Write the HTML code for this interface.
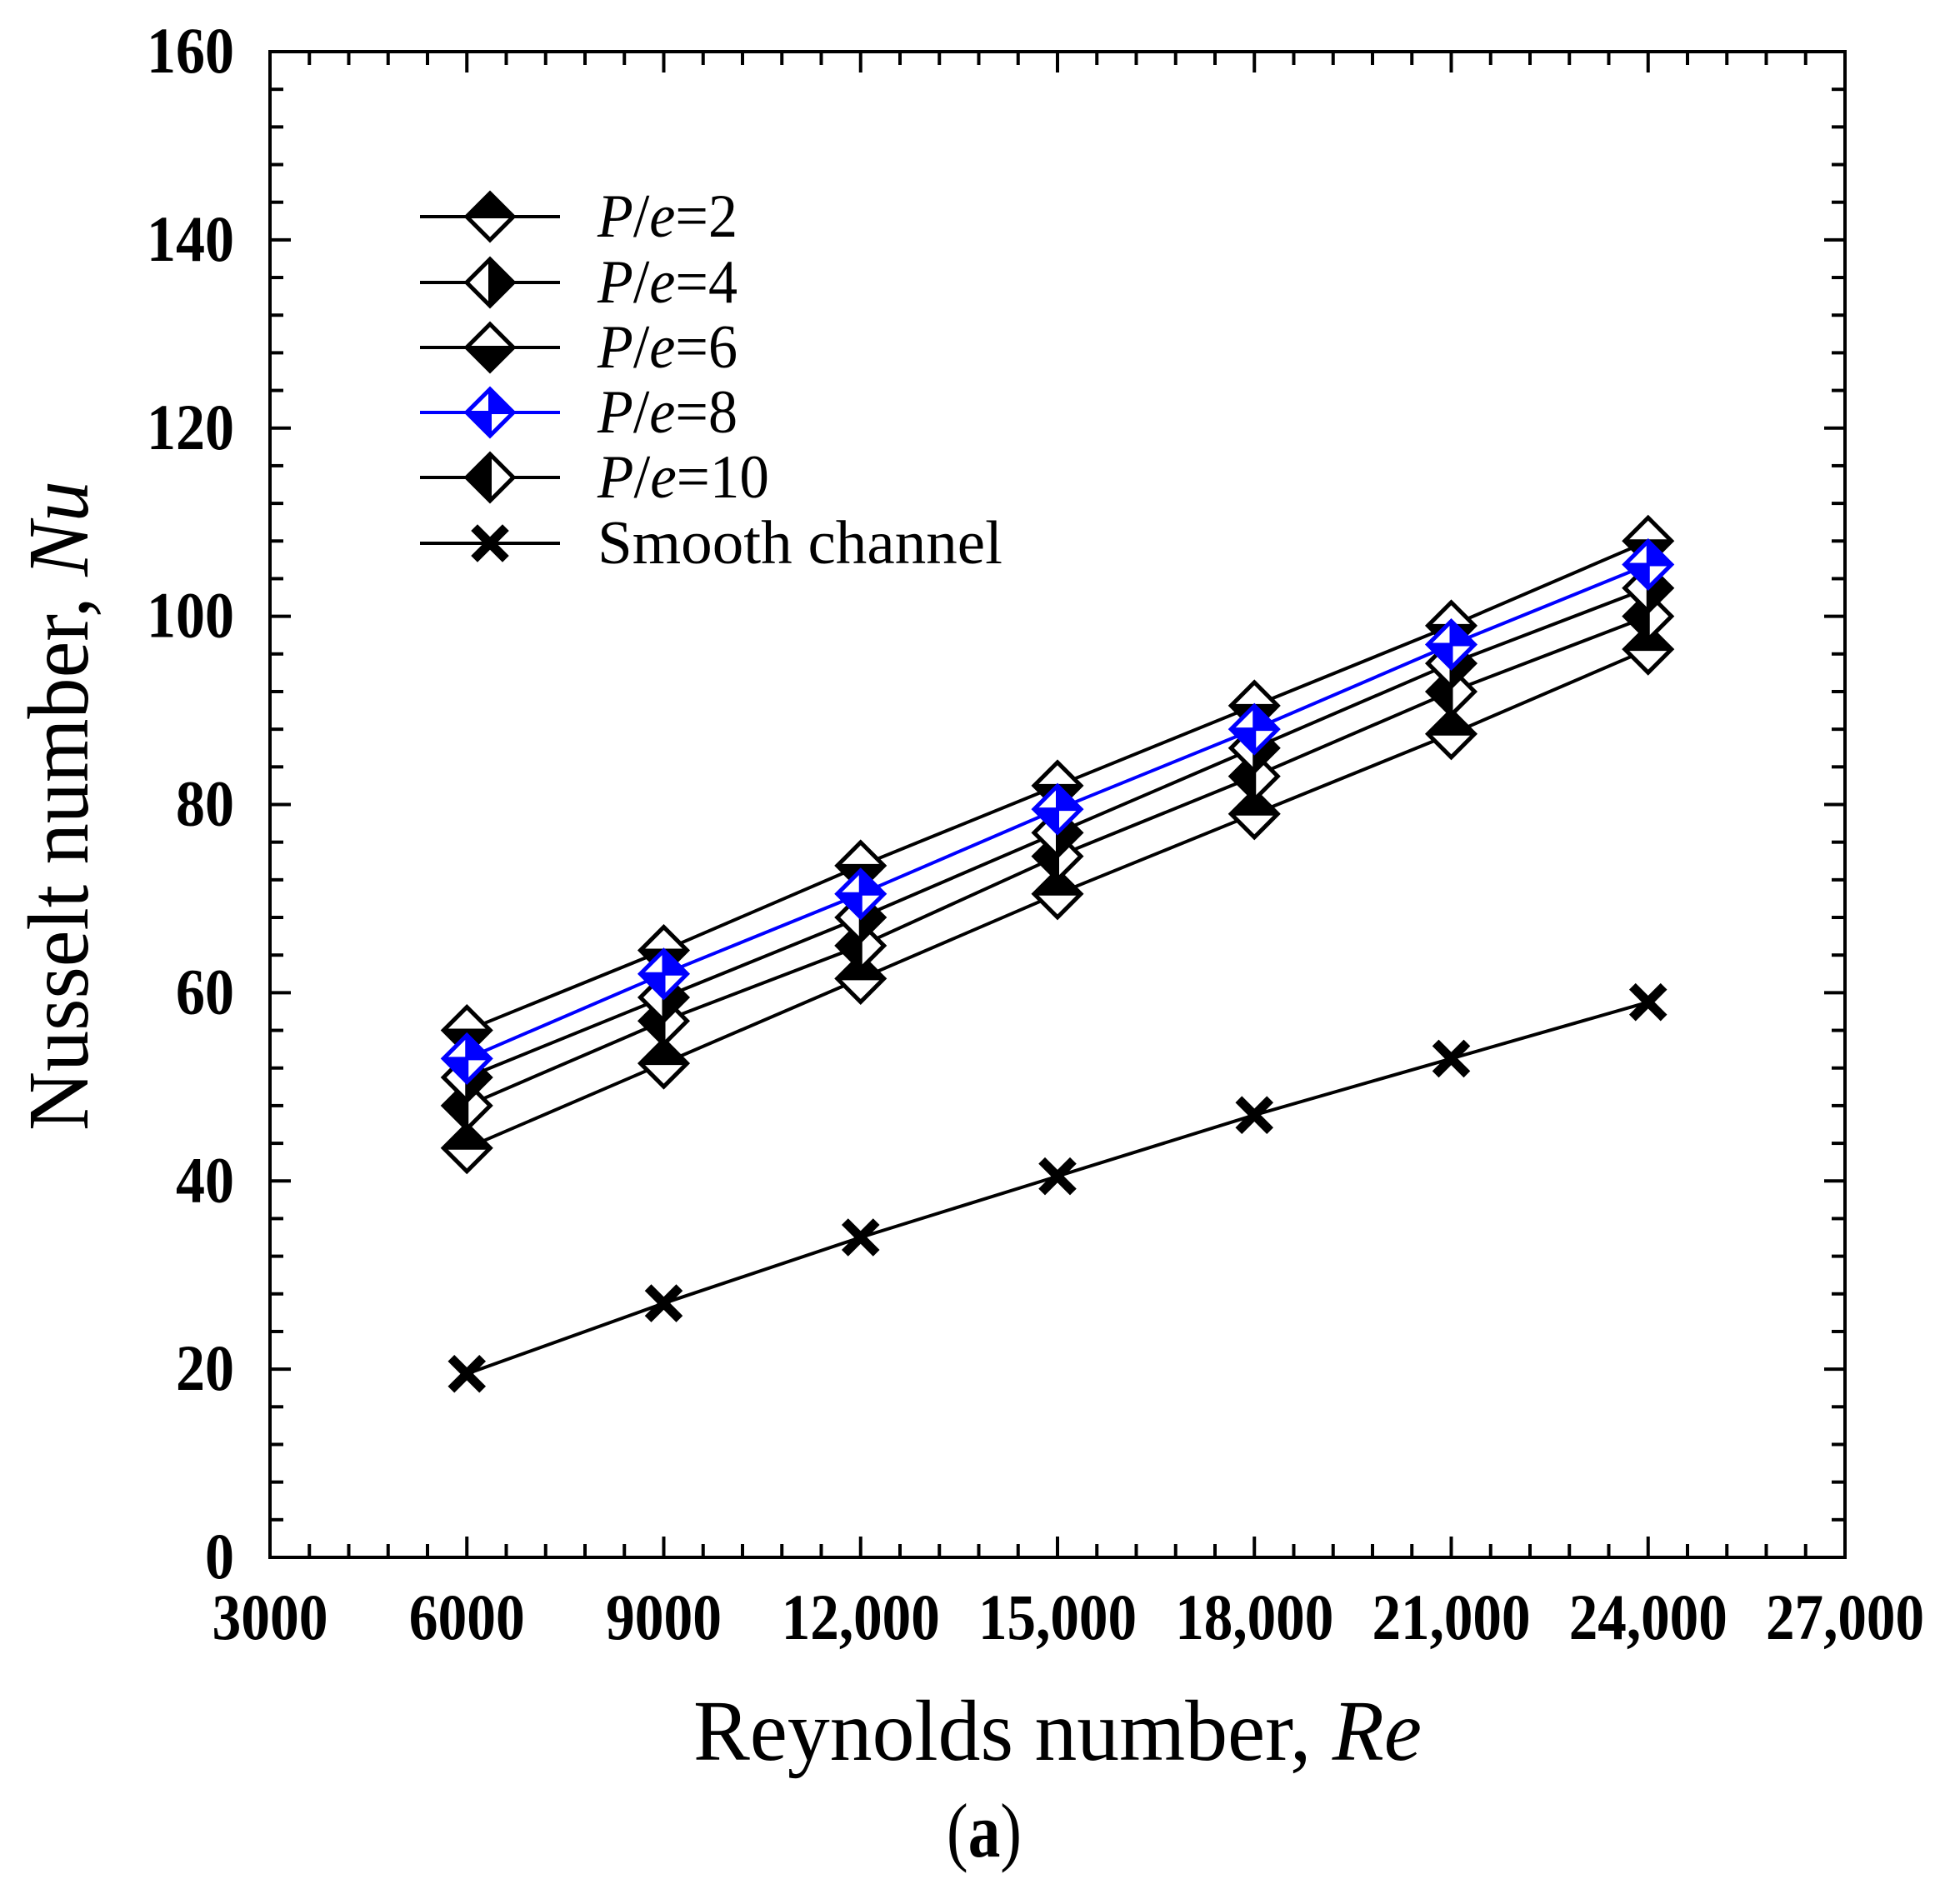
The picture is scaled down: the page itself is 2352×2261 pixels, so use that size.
<!DOCTYPE html>
<html><head><meta charset="utf-8"><style>
html,body{margin:0;padding:0;background:#fff;}
svg{display:block;}
text{font-family:"Liberation Serif",serif;fill:#000;}
</style></head><body>
<svg id="chart" width="2352" height="2261" viewBox="0 0 2352 2261" xmlns="http://www.w3.org/2000/svg">
<g id="ticks"></g>
<g id="series"></g>
<rect x="324" y="62" width="1890" height="1807" fill="none" stroke="#000" stroke-width="4"/>
<g id="labels"></g>
<g id="legend"></g>
<text x="832" y="2112" font-size="104" textLength="874" lengthAdjust="spacingAndGlyphs">Reynolds number, <tspan font-style="italic">Re</tspan></text>
<text transform="translate(105,1357) rotate(-90)" x="0" y="0" font-size="104" textLength="780" lengthAdjust="spacingAndGlyphs">Nusselt number, <tspan font-style="italic">Nu</tspan></text>
<text x="1136" y="2228" font-size="92" textLength="90" lengthAdjust="spacingAndGlyphs">(<tspan font-weight="bold">a</tspan>)</text>
</svg>
<script>
const reynolds = [6000, 9000, 12000, 15000, 18000, 21000, 24000];
const nuPe2 = [43.5, 52.5, 61.5, 70.5, 79, 87.5, 96.5];
const nuPe4 = [51, 59.5, 68, 77, 86, 95, 103];
const nuPe6 = [56, 64.5, 73.5, 82, 90.5, 99, 108];
const nuPe8 = [53, 62, 70.5, 79.5, 88, 97, 105.5];
const nuPe10 = [48, 57, 65, 74.5, 83, 92, 100];
const nuSmooth = [19.5, 27, 34, 40.5, 47, 53, 59];
const xTickValues = [3000, 6000, 9000, 12000, 15000, 18000, 21000, 24000, 27000];
const xTickLabels = ["3000", "6000", "9000", "12,000", "15,000", "18,000", "21,000", "24,000", "27,000"];
const yTickValues = [0, 20, 40, 60, 80, 100, 120, 140, 160];
const yTickLabels = ["0", "20", "40", "60", "80", "100", "120", "140", "160"];

const NS = "http://www.w3.org/2000/svg";
const L = 324, R = 2214, T = 62, B = 1869;
const X = v => L + (v - 3000) / 24000 * (R - L);
const Y = v => B - v / 160 * (B - T);
function mk(tag, attrs, parent) {
  const e = document.createElementNS(NS, tag);
  for (const k in attrs) e.setAttribute(k, attrs[k]);
  parent.appendChild(e);
  return e;
}
const tg = document.getElementById('ticks');
for (let v = 3000; v <= 27000; v += 600) {
  const major = (v % 3000) === 0;
  const len = major ? 25 : 16;
  const x = X(v);
  const t1 = mk('line', {x1: x, y1: B, x2: x, y2: B - len, stroke: '#000', 'stroke-width': 4}, tg);
  
  
  const t2 = mk('line', {x1: x, y1: T, x2: x, y2: T + len, stroke: '#000', 'stroke-width': 4}, tg);
  
  
}
for (let v = 0; v <= 160; v += 4) {
  const major = (v % 20) === 0;
  const len = major ? 25 : 16;
  const y = Y(v);
  const t1 = mk('line', {x1: L, y1: y, x2: L + len, y2: y, stroke: '#000', 'stroke-width': 4}, tg);
  
  
  const t2 = mk('line', {x1: R, y1: y, x2: R - len, y2: y, stroke: '#000', 'stroke-width': 4}, tg);
  
  
}
const lg = document.getElementById('labels');
xTickValues.forEach((v, i) => {
  const s = xTickLabels[i];
  const w = s.length === 4 ? 139 : 190;
  const t = mk('text', {x: X(v), y: 1967, 'font-size': 78, 'font-weight': 'bold', 'text-anchor': 'middle', textLength: w, lengthAdjust: 'spacingAndGlyphs'}, lg);
  t.textContent = s;
  
  
});
yTickValues.forEach((v, i) => {
  const s = yTickLabels[i];
  const w = s.length * 35;
  const t = mk('text', {x: 281, y: Y(v) + 25, 'font-size': 78, 'font-weight': 'bold', 'text-anchor': 'end', textLength: w, lengthAdjust: 'spacingAndGlyphs'}, lg);
  t.textContent = s;
  
  
});

const H = 28;
function marker(parent, cx, cy, type, color) {
  const g = mk('g', {}, parent);
  const dia = `${cx},${cy - H} ${cx + H},${cy} ${cx},${cy + H} ${cx - H},${cy}`;
  if (type === 'x') {
    const s = 15;
    mk('path', {d: `M${cx - s},${cy - s}L${cx + s},${cy + s}M${cx + s},${cy - s}L${cx - s},${cy + s}`, stroke: '#000', 'stroke-width': 11, 'stroke-linecap': 'square'}, g);
    return g;
  }
  mk('polygon', {points: dia, fill: '#fff'}, g);
  let fp = '';
  if (type === 'top') fp = `${cx - H},${cy} ${cx},${cy - H} ${cx + H},${cy}`;
  if (type === 'bottom') fp = `${cx - H},${cy} ${cx},${cy + H} ${cx + H},${cy}`;
  if (type === 'left') fp = `${cx},${cy - H} ${cx - H},${cy} ${cx},${cy + H}`;
  if (type === 'right') fp = `${cx},${cy - H} ${cx + H},${cy} ${cx},${cy + H}`;
  if (type === 'bowtie') {
    mk('polygon', {points: `${cx},${cy} ${cx},${cy - H} ${cx + H},${cy}`, fill: color}, g);
    fp = `${cx},${cy} ${cx},${cy + H} ${cx - H},${cy}`;
  }
  mk('polygon', {points: fp, fill: color}, g);
  if (type === 'top' || type === 'bottom' || type === 'bowtie')
    mk('line', {x1: cx - H, y1: cy, x2: cx + H, y2: cy, stroke: color, 'stroke-width': 4}, g);
  if (type === 'left' || type === 'right' || type === 'bowtie')
    mk('line', {x1: cx, y1: cy - H, x2: cx, y2: cy + H, stroke: color, 'stroke-width': 4}, g);
  mk('polygon', {points: dia, fill: 'none', stroke: color, 'stroke-width': 5, 'stroke-linejoin': 'miter'}, g);
  return g;
}
const seriesDefs = [
  {vals: nuPe2, type: 'top', color: '#000', name: 'pe-2'},
  {vals: nuPe10, type: 'left', color: '#000', name: 'pe-10'},
  {vals: nuPe4, type: 'right', color: '#000', name: 'pe-4'},
  {vals: nuPe6, type: 'bottom', color: '#000', name: 'pe-6'},
  {vals: nuPe8, type: 'bowtie', color: '#0000ff', name: 'pe-8'},
  {vals: nuSmooth, type: 'x', color: '#000', name: 'smooth-channel'}
];
const sg = document.getElementById('series');
seriesDefs.forEach(sd => {
  const pts = sd.vals.map((v, i) => `${X(reynolds[i])},${Y(v)}`).join(' ');
  const pl = mk('polyline', {points: pts, fill: 'none', stroke: sd.color, 'stroke-width': 4}, sg);
  
  
});
seriesDefs.forEach(sd => {
  sd.vals.forEach((v, i) => {
    const m = marker(sg, X(reynolds[i]), Y(v), sd.type, sd.color);
    
    
  });
});
const legendItems = [
  {label: '2', type: 'top', color: '#000'},
  {label: '4', type: 'right', color: '#000'},
  {label: '6', type: 'bottom', color: '#000'},
  {label: '8', type: 'bowtie', color: '#0000ff'},
  {label: '10', type: 'left', color: '#000'},
  {label: 'Smooth channel', type: 'x', color: '#000'}
];
const legendRows = [260, 339, 417, 495, 573, 652];
const leg = document.getElementById('legend');
legendItems.forEach((it, i) => {
  const cy = legendRows[i];
  const g = mk('g', {}, leg);
  
  
  mk('line', {x1: 504, y1: cy, x2: 672, y2: cy, stroke: it.color, 'stroke-width': 4}, g);
  marker(g, 588, cy, it.type, it.color);
  const t = mk('text', {x: 717, y: cy + 24, 'font-size': 74, lengthAdjust: 'spacingAndGlyphs'}, g);
  if (it.type === 'x') {
    t.setAttribute('textLength', 486);
    t.textContent = 'Smooth channel';
  } else {
    t.setAttribute('textLength', it.label.length === 1 ? 168 : 206);
    t.innerHTML = '<tspan font-style="italic">P</tspan>/<tspan font-style="italic">e</tspan>=' + it.label;
  }
});
</script>
</body></html>
